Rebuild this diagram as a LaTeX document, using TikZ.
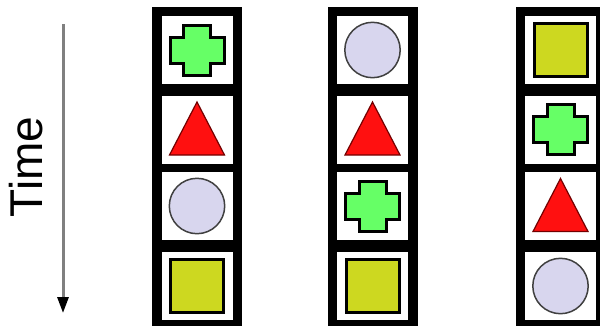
\documentclass[tikz,border=0pt]{standalone}
\usepackage{fontspec}
\setmainfont{Liberation Sans}
\usetikzlibrary{arrows.meta}

\definecolor{plusgreen}{HTML}{66FF66}
\definecolor{trired}{HTML}{FF1010}
\definecolor{dotlilac}{HTML}{D8D6EE}
\definecolor{sqolive}{HTML}{CDD820}
\definecolor{axisgray}{HTML}{808080}

\tikzset{
  strip/.style={fill=black, minimum width=90pt, minimum height=340pt, inner sep=0pt},
  cell/.style={fill=white, minimum width=71pt, minimum height=68pt, inner sep=0pt},
  timeline/.style={axisgray, line width=3pt, -{Triangle[length=16pt, width=11pt, color=black]}},
  plusmark/.pic={
    \draw[line width=3pt, fill=plusgreen]
      (-13.5,-25) -- (13.5,-25) -- (13.5,-13) -- (27,-13) -- (27,13) -- (13.5,13)
      -- (13.5,25) -- (-13.5,25) -- (-13.5,13) -- (-27,13) -- (-27,-13) -- (-13.5,-13) -- cycle;
  },
  trimark/.pic={
    \draw[line width=1.2pt, fill=trired, draw=black!55!red] (0,-27.5) -- (27.5,25.5) -- (-27.5,25.5) -- cycle;
  },
  dotmark/.pic={
    \draw[line width=1.5pt, fill=dotlilac, draw=black!75] (0,0) circle (27.7);
  },
  sqmark/.pic={
    \draw[line width=3pt, fill=sqolive] (-26.5,-26.5) rectangle (26.5,26.5);
  }
}

\begin{document}
\begin{tikzpicture}[x=1pt, y=-1pt]
	\useasboundingbox (0,0) rectangle (600,325);
	\clip (0,0) rectangle (600,325);
	% time axis
	\coordinate (tstart) at (63,24);
	\coordinate (tend) at (63,313);
	\draw[timeline] (tstart) -- (tend);
	\node[rotate=90, font=\fontsize{46}{46}\selectfont, inner sep=0pt] (timelabel) at (26.5,167) {Time};
	% columns and their cells
	\foreach \c/\x in {1/197, 2/372.5, 3/560.5} {
		\node[strip] (col\c) at (\x,177) {};
		\foreach \r/\y in {1/50, 2/129.5, 3/206, 4/286}
			\node[cell] (cell\c\r) at (\x,\y) {};
	}
	% shapes in the cells
	\foreach \p in {cell11, cell23, cell32} \pic at (\p) {plusmark};
	\foreach \p in {cell12, cell22, cell33} \pic at (\p) {trimark};
	\foreach \p in {cell13, cell21, cell34} \pic at (\p) {dotmark};
	\foreach \p in {cell14, cell24, cell31} \pic at (\p) {sqmark};
\end{tikzpicture}
\end{document}
